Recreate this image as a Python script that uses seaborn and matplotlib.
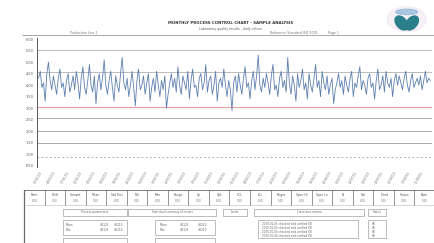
#control chart style plot with summary table below

import matplotlib
matplotlib.use("Agg")
import matplotlib.pyplot as plt
from matplotlib.patches import Ellipse, Rectangle
import numpy as np
import seaborn as sns
import pandas as pd

#series values
values = [
    4.3, 4.6, 3.9, 4.1, 3.3, 4.5, 5.0, 4.2, 3.8, 4.4, 4.0, 3.6, 4.3, 4.7, 3.9, 4.1, 3.5, 4.2, 4.5, 3.7,
    4.0, 4.4, 3.8, 4.6, 4.1, 3.4, 4.3, 4.8, 3.9, 3.6, 4.2, 4.9, 4.0, 3.7, 4.4, 3.2, 4.1, 4.5, 3.8, 4.3,
    5.1, 4.0, 3.6, 4.2, 4.6, 3.9, 3.3, 4.4, 4.0, 3.7, 4.5, 5.2, 4.1, 3.8, 4.3, 3.5, 4.0, 4.6, 3.9, 3.1,
    4.2, 4.7, 3.8, 4.0, 4.4, 3.6, 4.1, 4.5, 3.3, 3.9, 4.3, 3.7, 4.6, 4.0, 3.5, 4.2, 3.8, 4.4, 3.0, 3.6,
    4.1, 4.5, 3.9, 4.3, 3.7, 4.8, 4.0, 3.6, 4.4, 4.1, 3.8, 4.6, 3.4, 4.2, 4.7, 3.9, 4.0, 3.5, 4.3, 4.5,
    3.8, 4.1, 4.9, 3.7, 4.2, 4.4, 3.6, 4.0, 4.6, 3.3, 4.1, 4.3, 3.9, 4.7, 4.0, 3.5, 4.2, 3.8, 2.9, 4.1,
    4.4, 3.7, 4.5, 4.0, 3.6, 4.3, 4.8, 3.9, 4.1, 3.4, 4.2, 4.6, 3.8, 4.4, 5.3, 4.0, 3.7, 4.3, 3.9, 4.5,
    4.1, 3.6, 4.4, 4.9, 3.8, 4.0, 3.5, 4.3, 4.6, 3.9, 4.2, 3.7, 5.2, 4.1, 3.6, 4.4, 4.0, 3.3, 4.5, 3.9,
    4.2, 4.7, 3.8, 4.1, 3.4, 4.5, 4.0, 3.7, 4.3, 4.9, 3.9, 4.2, 3.5, 4.6, 4.1, 3.8, 4.4, 3.6, 4.0, 4.3,
    3.2, 3.8, 4.1, 4.5, 3.9, 4.2, 3.6, 4.4, 4.0, 3.7, 4.3, 4.6, 3.5, 4.1, 3.9, 4.4, 4.8, 3.8, 4.2, 4.0,
    3.6, 4.3, 4.5, 3.9, 4.1, 3.4, 4.2, 4.7, 3.8, 4.0, 4.4, 3.7, 4.6, 4.1, 3.9, 4.3, 3.5, 4.2, 4.5, 4.0,
    4.4, 4.1, 3.8, 4.3, 4.6, 4.0, 3.7, 4.2, 4.5, 3.9, 4.1, 4.3, 4.0, 4.4, 3.8, 4.2, 4.6, 4.1, 4.3, 4.2,
]

#reference lines
upper_lines = [5.52, 4.57]
red_limit = 3.04
lower_lines = [2.57, 2.0, 1.48]
dotted_line = 0.87

#y tick values
y_ticks = [0.5, 1.0, 1.5, 2.0, 2.5, 3.0, 3.5, 4.0, 4.5, 5.0, 5.5, 6.0]

#table header labels
header_labels = ["Plant", "Shift", "Sample", "Mean", "Std Dev", "Min", "Max", "Range",
                 "Cp", "Cpk", "UCL", "LCL", "Target", "Spec Hi", "Spec Lo", "N",
                 "Out", "Trend", "Status", "Note"]

#dates for x labels
dates = pd.date_range("2019-01-01", periods=len(values), freq="D")

df = pd.DataFrame({"idx": np.arange(len(values)), "value": values})

sns.set_style("white")
plt.rcParams['font.family'] = ['DejaVu Sans']

fig = plt.figure(figsize=(4.35, 2.43), dpi=100)

#main chart
ax = fig.add_axes([0.085, 0.313, 0.908, 0.531])
for v in upper_lines:
    ax.axhline(v, color="#b0b0b0", linewidth=0.6)
ax.axhline(red_limit, color="#e8a0a0", linewidth=0.8)
for v in lower_lines:
    ax.axhline(v, color="#a8a8a8", linewidth=0.7)
ax.axhline(dotted_line, color="#9a9a9a", linewidth=0.6, linestyle=(0, (2, 3)))

sns.lineplot(data=df, x="idx", y="value", ax=ax, color="#5d7fae", linewidth=0.6)

ax.set_ylim(0.45, 6.05)
ax.set_xlim(-1, len(values))
ax.set_yticks(y_ticks)
ax.set_yticklabels([f"{t:.2f}" for t in y_ticks], fontsize=2.5, color="#555555")
step = 8
ax.set_xticks(df["idx"][::step])
ax.set_xticklabels([d.strftime("%d/%m/%y") for d in dates[::step]], fontsize=2.2,
                   rotation=60, color="#777777")
ax.tick_params(length=1.5, width=0.4, pad=1)
ax.set_xlabel("")
ax.set_ylabel("")
for side in ["top", "right"]:
    ax.spines[side].set_visible(False)
ax.spines["left"].set_color("#555555")
ax.spines["left"].set_linewidth(0.7)
ax.spines["bottom"].set_visible(False)

#title and header
fig.text(0.53, 0.90, "MONTHLY PROCESS CONTROL CHART - SAMPLE ANALYSIS", fontsize=2.8,
         weight="bold", ha="center", color="#333333")
fig.text(0.53, 0.875, "Laboratory quality results - daily values", fontsize=2.3,
         ha="center", color="#666666")
fig.text(0.16, 0.862, "Production Line 1", fontsize=2.3, color="#777777")
fig.text(0.62, 0.862, "Reference Standard ISO 9001", fontsize=2.3, color="#777777")
fig.text(0.755, 0.862, "Page 1", fontsize=2.3, color="#777777")
fig.add_artist(plt.Line2D([0.05, 1.0], [0.858, 0.858], color="#999999", linewidth=0.6))

#logo
lax = fig.add_axes([0.885, 0.855, 0.1, 0.12])
lax.set_xlim(0, 1)
lax.set_ylim(0, 1)
lax.axis("off")
lax.add_patch(Ellipse((0.5, 0.55), 0.9, 0.85, color="#f3e6f3", alpha=0.6))
lax.add_patch(Ellipse((0.38, 0.42), 0.26, 0.5, angle=20, color="#2a7f8a"))
lax.add_patch(Ellipse((0.62, 0.42), 0.26, 0.5, angle=-20, color="#2a7f8a"))
lax.add_patch(Ellipse((0.5, 0.8), 0.5, 0.18, color="#8fb6d8", alpha=0.7))

#table area
tax = fig.add_axes([0.0, 0.0, 1.0, 0.26])
tax.set_xlim(0, 435)
tax.set_ylim(63, 0)
tax.axis("off")
gray = "#6a6a6a"
tax.plot([24, 24], [10, 63], color=gray, linewidth=0.9)
tax.plot([24, 435], [10, 10], color=gray, linewidth=0.6)
tax.plot([24, 435], [25, 25], color="#bbbbbb", linewidth=0.4)
cols = np.linspace(24, 435, len(header_labels) + 1)
for i, lab in enumerate(header_labels):
    tax.plot([cols[i], cols[i]], [10, 25], color=gray, linewidth=0.5)
    tax.text((cols[i] + cols[i + 1]) / 2, 15, lab, fontsize=2.2, ha="center",
             va="center", color="#555555")
    tax.text((cols[i] + cols[i + 1]) / 2, 21, "0.00", fontsize=2.0, ha="center",
             va="center", color="#777777")

#sub tables
boxes = [(63, 29, 64, 7), (128, 29, 88, 7), (223, 29, 24, 7), (254, 29, 110, 7),
         (368, 29, 18, 7), (63, 40, 64, 15), (155, 40, 60, 15), (258, 40, 100, 18),
         (368, 40, 18, 18), (63, 58, 64, 5), (155, 58, 60, 5)]
for (bx, by, bw, bh) in boxes:
    tax.add_patch(Rectangle((bx, by), bw, bh, fill=False, edgecolor="#8a8a8a",
                            linewidth=0.4))
tax.text(95, 32.5, "Process parameters", fontsize=2.0, ha="center", va="center", color="#666666")
tax.text(172, 32.5, "Statistical summary of results", fontsize=2.0, ha="center", va="center", color="#666666")
tax.text(235, 32.5, "Limits", fontsize=2.0, ha="center", va="center", color="#666666")
tax.text(309, 32.5, "Corrective actions", fontsize=2.0, ha="center", va="center", color="#666666")
tax.text(377, 32.5, "Status", fontsize=2.0, ha="center", va="center", color="#666666")
for k, yy in enumerate([45, 50]):
    tax.text(66, yy, ["Mean", "Max"][k], fontsize=2.0, va="center", color="#666666")
    tax.text(100, yy, "4.0125", fontsize=2.0, va="center", color="#666666")
    tax.text(114, yy, "4.0210", fontsize=2.0, va="center", color="#666666")
    tax.text(160, yy, ["Mean", "Max"][k], fontsize=2.0, va="center", color="#666666")
    tax.text(180, yy, "4.0125", fontsize=2.0, va="center", color="#666666")
    tax.text(198, yy, "4.0210", fontsize=2.0, va="center", color="#666666")
for k, yy in enumerate([44, 48, 52, 56]):
    tax.text(262, yy, "2019-01-0%d checked and verified OK" % (k + 1), fontsize=2.0,
             va="center", color="#666666")
    tax.text(372, yy, "OK", fontsize=2.0, va="center", color="#666666")

fig.savefig("out.png", dpi=100, facecolor="white")
